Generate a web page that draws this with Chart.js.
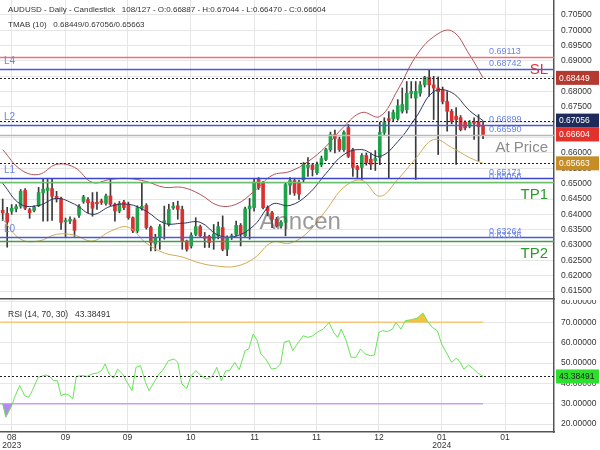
<!DOCTYPE html>
<html>
<head>
<meta charset="utf-8">
<script src="https://cdn.jsdelivr.net/npm/chart.js@4.4.1/dist/chart.umd.min.js"></script>
<style>
  body { margin: 0; background: #fff; width: 600px; height: 450px; overflow: hidden; }
  #priceWrap { position: absolute; left: 0; top: 0; width: 600px; height: 300px; }
  #rsiWrap { position: absolute; left: 0; top: 300px; width: 600px; height: 150px; }
</style>
</head>
<body>
<div id="priceWrap"><canvas id="priceChart"></canvas></div>
<div id="rsiWrap"><canvas id="rsiChart"></canvas></div>
<script>
// ---- Candles ----
const opens = [0.6413,0.6403,0.6410,0.6418,0.6426,0.6478,0.6415,0.6413,0.6429,0.6470,0.6478,0.6484,0.6459,0.6452,0.6376,0.6378,0.6382,0.6397,0.6442,0.6448,
  0.6440,0.6439,0.6444,0.6436,0.6460,0.6433,0.6411,0.6440,0.6433,0.6389,0.6346,0.6420,0.6429,0.6357,0.6303,0.6324,0.6374,0.6367,0.6421,0.6428,
  0.6416,0.6313,0.6297,0.6335,0.6360,0.6328,0.6328,0.6319,0.6330,0.6357,0.6286,0.6324,0.6335,0.6364,0.6330,0.6418,0.6422,0.6514,0.6503,0.6423,
  0.6405,0.6384,0.6362,0.6374,0.6495,0.6510,0.6505,0.6513,0.6553,0.6561,0.6536,0.6562,0.6579,0.6611,0.6660,0.6645,0.6611,0.6683,0.6611,0.6556,
  0.6553,0.6592,0.6580,0.6575,0.6585,0.6667,0.6712,0.6712,0.6713,0.6736,0.6741,0.6794,0.6779,0.6795,0.6822,0.6847,0.6822,0.6812,0.6806,0.6768,
  0.6736,0.6720,0.6715,0.6700,0.6687,0.6702,0.6700,0.66887];
const highs = [0.6450,0.6423,0.6432,0.6432,0.6481,0.6484,0.6420,0.6428,0.6488,0.6517,0.6514,0.6517,0.6475,0.6456,0.6388,0.6392,0.6388,0.6432,0.6462,0.6455,
  0.6471,0.6473,0.6450,0.6466,0.6514,0.6437,0.6442,0.6446,0.6440,0.6392,0.6428,0.6503,0.6435,0.6362,0.6335,0.6367,0.6427,0.6433,0.6439,0.6443,
  0.6427,0.6316,0.6340,0.6389,0.6365,0.6341,0.6332,0.6367,0.6375,0.6395,0.6330,0.6336,0.6378,0.6370,0.6424,0.6452,0.6515,0.6520,0.6508,0.6428,
  0.6410,0.6390,0.6380,0.6503,0.6520,0.6518,0.6512,0.6569,0.6585,0.6565,0.6570,0.6590,0.6615,0.6668,0.6675,0.6652,0.6672,0.6693,0.6615,0.6560,
  0.6598,0.6600,0.6600,0.6608,0.6700,0.6715,0.6735,0.6740,0.6774,0.6812,0.6833,0.6833,0.6833,0.6833,0.6850,0.6871,0.6850,0.6848,0.6815,0.6800,
  0.6742,0.6748,0.6722,0.6705,0.6706,0.6715,0.6725,0.67044];
const lows = [0.6380,0.6293,0.6400,0.6408,0.6420,0.6415,0.6387,0.6408,0.6425,0.6378,0.6378,0.6380,0.6440,0.6351,0.6325,0.6370,0.6328,0.6390,0.6436,0.6405,
  0.6394,0.6416,0.6432,0.6430,0.6428,0.6378,0.6405,0.6415,0.6384,0.6340,0.6340,0.6414,0.6352,0.6281,0.6281,0.6286,0.6319,0.6362,0.6416,0.6384,
  0.6286,0.6280,0.6290,0.6330,0.6325,0.6292,0.6292,0.6286,0.6320,0.6281,0.6265,0.6318,0.6330,0.6297,0.6325,0.6319,0.6410,0.6481,0.6418,0.6395,
  0.6357,0.6358,0.6355,0.6330,0.6465,0.6462,0.6449,0.6505,0.6524,0.6525,0.6530,0.6555,0.6575,0.6605,0.6600,0.6605,0.6605,0.6585,0.6524,0.6520,
  0.6514,0.6560,0.6546,0.6543,0.6562,0.6660,0.6518,0.6705,0.6707,0.6730,0.6730,0.6779,0.6514,0.6785,0.6815,0.6785,0.6709,0.6595,0.6760,0.6671,
  0.6695,0.6563,0.6672,0.6675,0.6682,0.6644,0.6573,0.66470];
const closes = [0.6405,0.6375,0.6420,0.6425,0.6475,0.6420,0.6405,0.6423,0.6471,0.6482,0.6486,0.6459,0.6450,0.6374,0.6380,0.6384,0.6348,0.6426,0.6457,0.6438,
  0.6420,0.6435,0.6439,0.6460,0.6433,0.6411,0.6436,0.6422,0.6389,0.6346,0.6422,0.6426,0.6357,0.6308,0.6324,0.6360,0.6379,0.6416,0.6427,0.6416,
  0.6313,0.6286,0.6332,0.6360,0.6330,0.6322,0.6308,0.6335,0.6360,0.6286,0.6324,0.6330,0.6364,0.6335,0.6418,0.6427,0.6505,0.6487,0.6422,0.6411,
  0.6384,0.6362,0.6374,0.6497,0.6510,0.6470,0.6466,0.6563,0.6561,0.6546,0.6563,0.6582,0.6611,0.6660,0.6648,0.6611,0.6667,0.6589,0.6553,0.6546,
  0.6592,0.6569,0.6563,0.6582,0.6667,0.6699,0.6706,0.6732,0.6754,0.6758,0.6795,0.6801,0.6801,0.6822,0.6847,0.6822,0.6812,0.6800,0.6768,0.6736,
  0.6703,0.6709,0.6676,0.6682,0.6700,0.6697,0.6686,0.66604];

// ---- TMAB (10) bands, sampled every few candles ----
const bandIdx = [0,4,8,12,16,20,24,28,32,36,40,44,48,52,56,60,64,68,72,76,80,84,88,92,96,100,104,107];
const bandUpper = [0.6611,0.6546,0.6530,0.6563,0.6553,0.6504,0.6514,0.6517,0.6507,0.6488,0.6488,0.6465,0.6429,0.6433,0.6475,0.6527,0.6540,0.6572,0.6621,0.6686,0.6732,0.6719,0.6806,0.6914,0.6979,0.6998,0.6920,0.68449];
const bandMiddle = [0.6501,0.6433,0.6429,0.6452,0.6433,0.6400,0.6426,0.6433,0.6410,0.6371,0.6371,0.6374,0.6332,0.6329,0.6364,0.6433,0.6429,0.6465,0.6533,0.6595,0.6611,0.6589,0.6637,0.6715,0.6800,0.6797,0.6738,0.67056];
const bandLower = [0.6384,0.6319,0.6313,0.6335,0.6332,0.6313,0.6345,0.6358,0.6306,0.6274,0.6261,0.6241,0.6231,0.6231,0.6257,0.6309,0.6306,0.6342,0.6413,0.6488,0.6511,0.6459,0.6514,0.6582,0.6644,0.6618,0.6585,0.65663];

// ---- RSI (14, 70, 30) ----
const rsiIdx = [0,0.7,2.0,2.8,3.8,4.9,5.8,6.6,7.9,9.6,10.5,11.3,12.2,13.0,13.9,14.7,15.6,16.4,17.7,18.8,19.9,21.1,22.0,22.8,23.7,24.7,25.6,26.7,27.5,28.8,
  29.7,30.7,31.8,32.6,33.5,34.8,35.6,36.9,38.2,39.0,39.9,41.0,42.0,43.0,44.2,45.4,46.7,47.7,48.7,49.7,50.5,51.7,52.7,54.0,54.8,55.8,56.7,57.5,58.6,59.9,
  60.9,61.9,62.7,63.8,64.6,65.9,66.9,68.0,69.1,70.1,71.4,72.7,73.7,74.6,75.4,76.5,77.6,78.7,79.7,80.8,81.9,82.8,83.8,84.6,85.7,86.8,87.6,88.7,89.7,91.0,
  92.3,93.6,94.7,95.7,96.8,97.8,99.0,100.0,101.0,101.7,102.7,103.8,104.7,105.8,107];
const rsiVals = [29.8,23.3,29.0,33.9,38.9,33.9,33.1,36.4,43.0,44.1,43.4,41.3,41.3,33.9,34.8,34.3,32.3,43.4,43.8,43.4,44.6,45.1,46.2,49.5,44.6,42.5,47.0,44.6,41.3,36.4,
  47.9,48.7,40.5,36.4,39.7,44.6,46.2,51.1,52.0,50.3,39.7,37.5,43.8,46.2,43.8,42.1,43.4,47.9,41.3,46.2,46.2,50.3,46.7,56.1,56.9,64.3,61.0,54.4,52.0,47.0,
  47.4,49.5,60.2,61.0,56.1,60.2,63.4,62.6,63.4,65.1,66.7,70.0,65.1,62.6,66.7,61.0,52.8,52.8,56.9,54.4,53.6,53.9,65.1,65.9,65.4,66.7,70.0,66.7,70.8,71.3,
  72.0,74.6,70.3,67.5,65.9,59.3,54.4,50.3,52.3,51.1,47.0,49.0,47.4,45.1,43.38491];
const rsiLevels = [70, 30];

// ---- Levels ----
const levelValues = [0.69113, 0.68742, 0.66899, 0.66590, 0.65171, 0.65056, 0.63264, 0.63136];
const levelColors = ['#f07070', '#4a58dc', '#4a58dc', '#b8b8b8', '#3a48c8', '#6cbf6c', '#4a58dc', '#4a9a4a'];
const levelNames = { 1: 'L4', 2: 'L2', 4: 'L1', 6: 'L0' };
const levelTags = { 0: ['SL', '#e83030'], 3: ['At Price', '#8c8c8c'], 5: ['TP1', '#2e9a2e'], 7: ['TP2', '#2e9a2e'] };

// ---- x axis ----
const tickIdx = [2.0, 14.0, 27.8, 41.9, 56.1, 69.9, 83.8, 97.8, 111.9];
const tickLabels = ['08\n2023', '09', '09', '10', '11', '11', '12', '01\n2024', '01'];

const last = closes.length - 1;
const xMin = -0.6, xMax = 122.8;
const gridColor = '#e6e6e6';
const font = '"Liberation Sans", Arial, sans-serif';

Chart.defaults.font.family = font;
Chart.defaults.font.size = 8.5;
Chart.defaults.color = '#333';

const xScale = (showTicks) => ({
  type: 'linear',
  min: xMin,
  max: xMax,
  offset: false,
  afterBuildTicks: s => { s.ticks = tickIdx.map(v => ({ value: v })); },
  afterFit: s => { s.height = showTicks ? 18 : 1; s.paddingLeft = 0; s.paddingRight = 0; },
  grid: { color: gridColor, drawTicks: false, offset: false },
  border: { color: '#555', width: 1.5 },
  ticks: {
    display: showTicks,
    autoSkip: false,
    maxRotation: 0,
    padding: 1,
    font: { size: 8.5, lineHeight: 1.0 },
    callback: (v, i) => tickLabels[i].split('\n')
  }
});

const yScale = (min, max, step, digits) => ({
  position: 'right',
  min,
  max,
  afterFit: s => { s.width = 46; s.paddingTop = 0; s.paddingBottom = 0; },
  grid: { color: gridColor, drawTicks: false },
  border: { color: '#555', width: 1.5 },
  ticks: { stepSize: step, includeBounds: false, padding: 7, callback: v => v.toFixed(digits) }
});

const drawBox = (ctx, area, py, text, bg, fg) => {
  ctx.fillStyle = bg;
  ctx.fillRect(area.right + 2, py - 7, 600 - area.right - 3, 14);
  ctx.fillStyle = fg;
  ctx.font = `8.5px ${font}`;
  ctx.textAlign = 'left';
  ctx.textBaseline = 'middle';
  ctx.fillText(text, area.right + 5, py + 0.5);
};

const hline = (ctx, area, py, color, dash, width) => {
  ctx.strokeStyle = color;
  ctx.lineWidth = width;
  ctx.setLineDash(dash);
  ctx.beginPath();
  ctx.moveTo(area.left, py);
  ctx.lineTo(area.right, py);
  ctx.stroke();
  ctx.setLineDash([]);
};

// ---- Price panel overlays ----
const priceOverlay = {
  id: 'priceOverlay',
  afterDatasetsDraw(chart) {
    const { ctx, chartArea: a, scales: { x, y } } = chart;
    const up = bandUpper[bandUpper.length - 1];
    const mid = bandMiddle[bandMiddle.length - 1];
    const low = bandLower[bandLower.length - 1];
    ctx.save();

    // watermark
    ctx.fillStyle = 'rgba(85,85,85,0.6)';
    ctx.font = `24px ${font}`;
    ctx.textAlign = 'left';
    ctx.textBaseline = 'alphabetic';
    ctx.fillText('Anncen', x.getPixelForValue(57.2), y.getPixelForValue(0.6352));

    // band values now: dotted
    [up, mid, low].forEach(v => hline(ctx, a, Math.round(y.getPixelForValue(v)) + 0.5, '#222', [2, 2], 1));

    levelValues.forEach((v, k) => {
      const py = Math.round(y.getPixelForValue(v)) + 0.5;
      hline(ctx, a, py, levelColors[k], [], 1.5);
      ctx.font = `9px ${font}`;
      ctx.fillStyle = '#6a84e6';
      ctx.textAlign = 'left';
      ctx.textBaseline = 'bottom';
      ctx.fillText(v.toFixed(5), x.getPixelForValue(last + 1.3), py - 1);
      if (levelNames[k]) {
        ctx.font = `10px ${font}`;
        ctx.fillText(levelNames[k], a.left + 4, py - 3);
      }
      if (levelTags[k]) {
        ctx.font = `15px ${font}`;
        ctx.fillStyle = levelTags[k][1];
        ctx.textAlign = 'right';
        ctx.textBaseline = 'top';
        ctx.fillText(levelTags[k][0], a.right - 6, py + 5);
      }
    });

    // header
    ctx.fillStyle = '#333';
    ctx.font = `8px ${font}`;
    ctx.textAlign = 'left';
    ctx.textBaseline = 'middle';
    ctx.fillText(`AUDUSD - Daily - Candlestick   ${closes.length}/127 - O:${opens[last].toFixed(5)} - H:${highs[last].toFixed(5)} - L:${lows[last].toFixed(5)} - C:${closes[last].toFixed(5)}`, 8, 10);
    ctx.fillText(`TMAB (10)   ${up.toFixed(5)}/${mid.toFixed(5)}/${low.toFixed(5)}`, 8, 25);

    // axis boxes
    drawBox(ctx, a, y.getPixelForValue(up), up.toFixed(5), '#b43a30', '#fff');
    drawBox(ctx, a, y.getPixelForValue(mid), mid.toFixed(5), '#1f2b5a', '#fff');
    drawBox(ctx, a, y.getPixelForValue(closes[last]), closes[last].toFixed(5), '#e3322b', '#fff');
    drawBox(ctx, a, y.getPixelForValue(low), low.toFixed(5), '#c68c26', '#fff');
    ctx.restore();
  }
};

const bandLine = (vals, color) => ({
  type: 'line',
  data: bandIdx.map((i, k) => ({ x: i, y: vals[k] })),
  borderColor: color,
  borderWidth: 1,
  pointRadius: 0,
  tension: 0.4,
  order: 0
});

new Chart(document.getElementById('priceChart'), {
  type: 'bar',
  data: {
    datasets: [
      bandLine(bandUpper, '#b5535a'),
      bandLine(bandMiddle, '#2c3762'),
      bandLine(bandLower, '#d2aa55'),
      {
        data: opens.map((o, i) => ({ x: i, y: [o, closes[i]] })),
        backgroundColor: opens.map((o, i) => closes[i] >= o ? '#1ea34b' : '#dc2f2f'),
        barThickness: 3,
        grouped: false,
        order: 1
      },
      {
        data: opens.map((o, i) => ({ x: i, y: [lows[i], highs[i]] })),
        backgroundColor: '#3a3a3a',
        barThickness: 1,
        grouped: false,
        order: 2
      }
    ]
  },
  options: {
    responsive: true,
    maintainAspectRatio: false,
    animation: false,
    layout: { padding: 0 },
    plugins: { legend: { display: false }, tooltip: { enabled: false } },
    scales: {
      x: xScale(false),
      y: yScale(0.61241, 0.70987, 0.005, 5)
    }
  },
  plugins: [priceOverlay]
});

// ---- RSI panel ----
const rsiOverlay = {
  id: 'rsiOverlay',
  afterDatasetsDraw(chart) {
    const { ctx, chartArea: a, scales: { y } } = chart;
    const now = rsiVals[rsiVals.length - 1];
    ctx.save();
    hline(ctx, a, Math.round(y.getPixelForValue(now)) + 0.5, '#222', [2, 2], 1);
    ctx.fillStyle = '#333';
    ctx.font = `8.5px ${font}`;
    ctx.textAlign = 'left';
    ctx.textBaseline = 'middle';
    ctx.fillText(`RSI (14, ${rsiLevels[0]}, ${rsiLevels[1]})   ${now.toFixed(5)}`, 8, 15);
    drawBox(ctx, a, y.getPixelForValue(now), now.toFixed(5), '#2ee02e', '#1a1a1a');
    ctx.restore();
  }
};

const rsiPoints = rsiIdx.map((i, k) => ({ x: i, y: rsiVals[k] }));
const levelLine = (v, color) => ({
  data: [{ x: xMin, y: v }, { x: last, y: v }],
  borderColor: color,
  borderWidth: 1.5,
  pointRadius: 0,
  order: 2
});

new Chart(document.getElementById('rsiChart'), {
  type: 'line',
  data: {
    datasets: [
      {
        data: rsiPoints,
        borderColor: '#66e455',
        borderWidth: 1,
        pointRadius: 0,
        fill: { target: { value: rsiLevels[0] }, above: 'rgba(240,190,40,0.9)', below: 'rgba(0,0,0,0)' },
        order: 0
      },
      {
        data: rsiPoints,
        borderWidth: 0,
        borderColor: 'rgba(0,0,0,0)',
        pointRadius: 0,
        fill: { target: { value: rsiLevels[1] }, above: 'rgba(0,0,0,0)', below: '#b48af0' },
        order: 1
      },
      levelLine(rsiLevels[0], '#f8c98a'),
      levelLine(rsiLevels[1], '#c7a6f2')
    ]
  },
  options: {
    responsive: true,
    maintainAspectRatio: false,
    animation: false,
    layout: { padding: 0 },
    plugins: { legend: { display: false }, tooltip: { enabled: false } },
    scales: {
      x: xScale(true),
      y: yScale(16.07, 80.98, 10, 5)
    }
  },
  plugins: [rsiOverlay]
});
</script>
</body>
</html>
